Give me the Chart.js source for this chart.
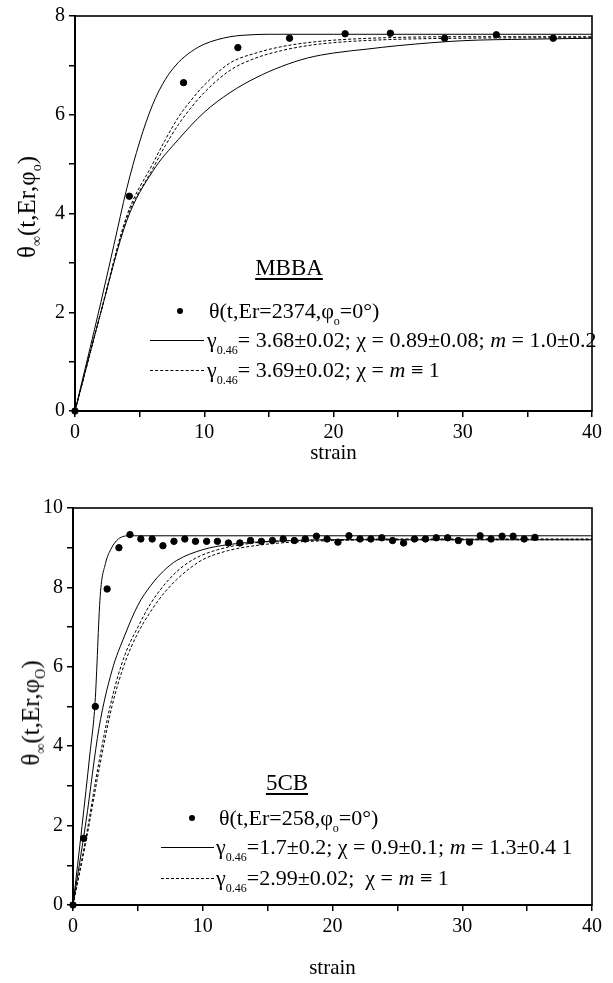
<!DOCTYPE html>
<html>
<head>
<meta charset="utf-8">
<script src="https://cdn.jsdelivr.net/npm/chart.js@4.4.1/dist/chart.umd.min.js"></script>
<style>
  html, body { margin: 0; padding: 0; background: #fff; }
  #wrap { position: relative; width: 613px; height: 983px; overflow: hidden; font-family: "Liberation Serif", "Times New Roman", serif; color: #000; }
  canvas { position: absolute; left: 0; }
  .t { position: absolute; white-space: nowrap; font-size: 22px; line-height: 24px; }
  .t sub { font-size: 12px; vertical-align: -7px; line-height: 0; }
  .lab { position: absolute; font-size: 23px; line-height: 26px; text-decoration: underline; text-underline-offset: 3px; transform: translateX(-50%); }
  .ytitle { position: absolute; font-size: 25px; line-height: 28px; white-space: nowrap; transform: translate(-50%, -50%) rotate(-90deg); }
  .ytitle sub { font-size: 14px; vertical-align: -6px; line-height: 0; }
  .dot { position: absolute; width: 6px; height: 6px; border-radius: 50%; background: #000; }
  .ln { position: absolute; height: 0; border-top: 1px solid #000; }
  .dash { border-top: 1px dashed #000; }
</style>
</head>
<body>
<div id="wrap">
  <canvas id="c1" width="613" height="470" style="top:0px;width:613px;height:470px"></canvas>
  <canvas id="c2" width="613" height="508" style="top:475px;width:613px;height:508px"></canvas>

  <div class="ytitle" style="left:27px;top:207px">θ<sub>∞</sub>(t,Er,φ<sub>o</sub>)</div>
  <div class="ytitle" style="left:31px;top:713px">θ<sub>∞</sub>(t,Er,φ<sub>O</sub>)</div>

  <div class="lab" style="left:289px;top:255px">MBBA</div>
  <div class="dot" style="left:177px;top:308px"></div>
  <div class="t" style="left:209px;top:299px">θ(t,Er=2374,φ<sub>o</sub>=0°)</div>
  <div class="ln" style="left:150px;width:54px;top:340px"></div>
  <div class="t" style="left:207px;top:328px">γ<sub>0.46</sub>= 3.68±0.02; χ = 0.89±0.08; <i>m</i> = 1.0±0.2</div>
  <div class="ln dash" style="left:150px;width:54px;top:370px"></div>
  <div class="t" style="left:207px;top:358px">γ<sub>0.46</sub>= 3.69±0.02; χ = <i>m</i> ≡ 1</div>

  <div class="lab" style="left:287px;top:770px">5CB</div>
  <div class="dot" style="left:189px;top:815px"></div>
  <div class="t" style="left:219px;top:806px">θ(t,Er=258,φ<sub>o</sub>=0°)</div>
  <div class="ln" style="left:161px;width:53px;top:847px"></div>
  <div class="t" style="left:216px;top:835px">γ<sub>0.46</sub>=1.7±0.2; χ = 0.9±0.1; <i>m</i> = 1.3±0.4 1</div>
  <div class="ln dash" style="left:161px;width:53px;top:878px"></div>
  <div class="t" style="left:216px;top:866px">γ<sub>0.46</sub>=2.99±0.02;&nbsp; χ = <i>m</i> ≡ 1</div>
</div>
<script>
// ---------- MBBA (top) ----------
const mbbaPtsX = [0, 4.2, 8.4, 12.6, 16.6, 20.9, 24.4, 28.6, 32.6, 37.0];
const mbbaPtsY = [0, 4.35, 6.65, 7.36, 7.55, 7.64, 7.65, 7.55, 7.62, 7.55];

const mbbaFastX = [0, 2, 3, 4, 5, 6, 7, 8, 9, 10, 11, 12, 13, 15, 20, 40];
const mbbaFastY = [0, 2.2, 3.35, 4.5, 5.45, 6.2, 6.72, 7.06, 7.28, 7.43, 7.52, 7.58, 7.61, 7.63, 7.63, 7.63];

const mbbaSlowX = [0, 2, 4, 6, 8, 10, 12, 14, 16, 18, 20, 22.6, 25, 30, 35, 40];
const mbbaSlowY = [0, 2.0, 3.85, 4.85, 5.5, 6.05, 6.45, 6.75, 6.98, 7.15, 7.25, 7.33, 7.4, 7.5, 7.53, 7.55];

const mbbaDashAX = [0, 2, 4, 6, 7, 8, 9, 10, 12, 14, 16, 18, 20, 24, 30, 40];
const mbbaDashAY = [0, 2.0, 3.95, 5.0, 5.5, 5.95, 6.3, 6.6, 7.05, 7.25, 7.38, 7.46, 7.51, 7.56, 7.58, 7.58];

const mbbaDashBX = [0, 2, 4, 6, 7, 8, 9, 10, 12, 14, 16, 18, 20, 24, 30, 40];
const mbbaDashBY = [0, 2.0, 3.9, 4.9, 5.38, 5.8, 6.15, 6.45, 6.9, 7.15, 7.3, 7.4, 7.46, 7.52, 7.55, 7.56];

const mbbaYTicks = [0, 2, 4, 6, 8];

// ---------- 5CB (bottom) ----------
const cbPtsX = [0, 0.82, 1.72, 2.63, 3.54, 4.39, 5.23, 6.1, 6.93, 7.78, 8.62, 9.44, 10.3, 11.13, 11.98, 12.86, 13.68, 14.52, 15.37, 16.2, 17.06, 17.9, 18.76, 19.58, 20.42, 21.27, 22.12, 22.96, 23.8, 24.63, 25.48, 26.32, 27.17, 28.0, 28.87, 29.7, 30.56, 31.38, 32.22, 33.07, 33.92, 34.77, 35.6];
const cbPtsY = [0, 1.68, 5.0, 7.96, 9.0, 9.33, 9.22, 9.22, 9.05, 9.16, 9.22, 9.16, 9.16, 9.16, 9.12, 9.12, 9.18, 9.16, 9.18, 9.22, 9.18, 9.22, 9.29, 9.22, 9.14, 9.3, 9.22, 9.22, 9.25, 9.18, 9.12, 9.22, 9.22, 9.25, 9.25, 9.18, 9.14, 9.3, 9.22, 9.29, 9.29, 9.22, 9.26];

const cbFastX = [0, 0.7, 1.3, 1.7, 2.1, 2.5, 2.9, 3.5, 4.4, 10, 40];
const cbFastY = [0, 2.0, 3.8, 5.1, 7.8, 8.6, 8.95, 9.22, 9.3, 9.3, 9.3];

const cbSlowX = [0, 1, 2, 3, 4, 5, 6, 7, 8, 10, 12, 14, 16, 20, 40];
const cbSlowY = [0, 2.1, 4.45, 5.9, 6.8, 7.55, 8.05, 8.42, 8.68, 8.95, 9.08, 9.14, 9.17, 9.2, 9.2];

const cbDashAX = [0, 1, 2, 3, 4, 5, 6, 7, 8, 9, 10, 12, 14, 16, 20, 25, 40];
const cbDashAY = [0, 1.7, 3.6, 5.2, 6.3, 7.0, 7.6, 8.05, 8.4, 8.65, 8.82, 9.02, 9.12, 9.17, 9.2, 9.22, 9.22];

const cbDashBX = [0, 1, 2, 3, 4, 5, 6, 7, 8, 9, 10, 12, 14, 16, 20, 25, 40];
const cbDashBY = [0, 1.6, 3.4, 5.0, 6.1, 6.85, 7.4, 7.85, 8.2, 8.48, 8.7, 8.93, 9.05, 9.12, 9.18, 9.2, 9.2];

const cbYTicks = [0, 2, 4, 6, 8, 10];
const xTickLabels = [0, 10, 20, 30, 40];

// ---------- helpers ----------
const zip = (xs, ys) => xs.map((x, i) => ({ x: x, y: ys[i] }));
const FONT = "'Liberation Serif', 'Times New Roman', serif";

const framePlugin = {
  id: 'frame',
  afterDatasetsDraw(chart) {
    const a = chart.chartArea, ctx = chart.ctx;
    ctx.save();
    ctx.strokeStyle = '#000';
    ctx.lineWidth = 1.6;
    ctx.strokeRect(a.left, a.top, a.right - a.left, a.bottom - a.top);
    ctx.restore();
  }
};

function lineDs(data, dashed) {
  return {
    type: 'line', data: data, borderColor: '#000', borderWidth: 1,
    borderDash: dashed ? [3, 2] : [], pointRadius: 0, fill: false,
    cubicInterpolationMode: 'monotone', order: 2
  };
}

function makeChart(id, cfg) {
  const datasets = [
    { type: 'scatter', data: cfg.pts, backgroundColor: '#000', borderColor: '#000', pointRadius: 3.2, pointHoverRadius: 3.2, clip: false, order: 1 },
    lineDs(cfg.fast, false), lineDs(cfg.slow, false), lineDs(cfg.dashA, true), lineDs(cfg.dashB, true)
  ];
  return new Chart(document.getElementById(id), {
    type: 'scatter',
    data: { datasets: datasets },
    options: {
      responsive: false, animation: false, devicePixelRatio: 1,
      layout: { padding: { left: 0, right: 21, top: cfg.padTop, bottom: 0 } },
      plugins: { legend: { display: false }, tooltip: { enabled: false } },
      scales: {
        x: {
          type: 'linear', min: 0, max: 40,
          afterFit: s => { s.height = cfg.xHeight; },
          ticks: { stepSize: 5, padding: cfg.xTickPad, color: '#000', maxRotation: 0, autoSkip: false,
                   font: { family: FONT, size: 20 },
                   callback: v => xTickLabels.includes(v) ? String(v) : '' },
          grid: { drawOnChartArea: false, drawTicks: true, tickLength: 6, color: '#000', lineWidth: 1.5 },
          border: { display: true, color: '#000', width: 2 },
          title: { display: true, text: 'strain', color: '#000', font: { family: FONT, size: 21 }, padding: { top: 0, bottom: cfg.titlePad } }
        },
        y: {
          type: 'linear', min: 0, max: cfg.yMax,
          afterFit: s => { s.width = cfg.yWidth; },
          ticks: { stepSize: 1, padding: 4, color: '#000', autoSkip: false,
                   font: { family: FONT, size: 20 },
                   callback: v => cfg.yTicks.includes(v) ? String(v) : '' },
          grid: { drawOnChartArea: false, drawTicks: true, tickLength: 6, color: '#000', lineWidth: 1.5 },
          border: { display: true, color: '#000', width: 2 }
        }
      }
    },
    plugins: [framePlugin]
  });
}

makeChart('c1', {
  pts: zip(mbbaPtsX, mbbaPtsY), fast: zip(mbbaFastX, mbbaFastY), slow: zip(mbbaSlowX, mbbaSlowY),
  dashA: zip(mbbaDashAX, mbbaDashAY), dashB: zip(mbbaDashBX, mbbaDashBY),
  yMax: 8, yTicks: mbbaYTicks, padTop: 15, xHeight: 59, yWidth: 75, xTickPad: 4, titlePad: 4
});
makeChart('c2', {
  pts: zip(cbPtsX, cbPtsY), fast: zip(cbFastX, cbFastY), slow: zip(cbSlowX, cbSlowY),
  dashA: zip(cbDashAX, cbDashAY), dashB: zip(cbDashBX, cbDashBY),
  yMax: 10, yTicks: cbYTicks, padTop: 33, xHeight: 78, yWidth: 73, xTickPad: 4, titlePad: 2
});
</script>
</body>
</html>
